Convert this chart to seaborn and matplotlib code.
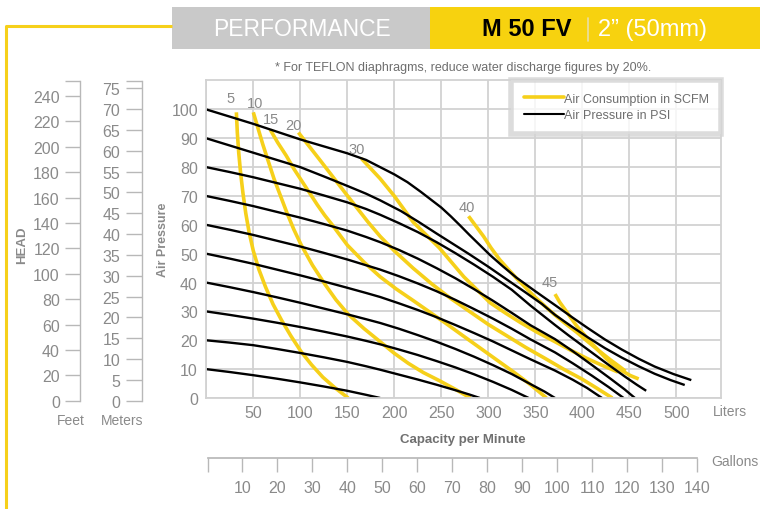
import numpy as np
import pandas as pd
import matplotlib
matplotlib.use("Agg")
import matplotlib.pyplot as plt
from matplotlib.lines import Line2D
from matplotlib.patches import Rectangle
import seaborn as sns

# ---- air pressure curves (PSI): capacity in liters/min -> pressure
p10_lpm = [0, 25, 50, 75, 100, 125, 150, 170, 185]
p10_val = [10, 9, 7.9, 6.7, 5.4, 4, 2.5, 1.1, 0]
p20_lpm = [0, 25, 50, 75, 100, 125, 150, 170, 185, 205, 225, 245, 265, 280, 291]
p20_val = [20, 19.2, 18.3, 17, 15.6, 14.1, 12.5, 11, 9.8, 8.1, 6.4, 4.6, 2.7, 1.2, 0]
p30_lpm = [0, 25, 50, 75, 100, 125, 150, 170, 185, 205, 225, 245, 265, 285, 305, 325, 343]
p30_val = [30, 28.8, 27.5, 26.1, 24.6, 23, 21.3, 19.8, 18.6, 16.8, 14.9, 12.8, 10.6, 8.2, 5.6, 2.8, 0]
p40_lpm = [0, 25, 50, 75, 100, 125, 150, 170, 185, 205, 225, 245, 265, 285, 305, 325, 345, 360, 371]
p40_val = [40, 38.4, 36.7, 34.9, 33, 31, 29, 27.3, 26, 24, 21.8, 19.5, 17, 14.3, 11.4, 8.3, 4.8, 2.2, 0]
p50_lpm = [0, 25, 50, 75, 100, 125, 150, 170, 185, 205, 225, 245, 265, 285, 305, 325, 345, 371, 390, 405, 421]
p50_val = [50, 48.3, 46.5, 44.5, 42.5, 40.4, 38.2, 36.4, 35, 32.8, 30.5, 28, 25.3, 22.5, 19.6, 16.5, 13.4, 9.5, 6.3, 3.5, 0]
p60_lpm = [0, 25, 50, 75, 100, 125, 150, 170, 185, 205, 225, 245, 265, 285, 305, 325, 345, 371, 390, 410, 428, 444]
p60_val = [60, 58.3, 56.5, 54.5, 52.5, 50.3, 48, 46, 44.5, 42.2, 39.7, 37, 34, 30.8, 27.5, 24, 20.3, 15.8, 12, 7.8, 3.8, 0]
p70_lpm = [0, 25, 50, 75, 100, 125, 150, 170, 185, 205, 225, 245, 265, 285, 305, 325, 345, 371, 390, 410, 430, 445, 456]
p70_val = [70, 68.3, 66.5, 64.5, 62.5, 60.3, 58, 55.8, 54, 51.3, 48.3, 45, 41.5, 37.7, 33.7, 29.5, 25.2, 20.4, 16.2, 11.5, 6.7, 3, 0]
p80_lpm = [0, 25, 50, 75, 100, 125, 150, 170, 185, 205, 225, 245, 265, 285, 305, 325, 345, 371, 385, 405, 425, 445, 458, 468]
p80_val = [80, 78.3, 76.5, 74.5, 72.5, 70.2, 67.8, 65.5, 63.5, 60.6, 57.5, 54, 50.2, 46.2, 42, 37.5, 32, 25.3, 21.8, 17, 12.2, 7.5, 4.6, 2.5]
p90_lpm = [0, 25, 50, 75, 100, 125, 150, 170, 185, 207, 226, 245, 262, 279, 300, 320, 340, 357, 371, 389, 406, 424, 442, 460, 477, 494, 509]
p90_val = [90, 87.5, 85, 82.5, 80, 76.8, 73.5, 70.8, 68.5, 64.8, 61, 57, 53.5, 50, 45.5, 41, 36.5, 32.6, 28.8, 24.7, 21, 17.3, 14, 11, 8.4, 6.2, 4.5]
p100_lpm = [0, 25, 50, 75, 100, 125, 150, 170, 185, 200, 214, 228, 240, 250, 260, 270, 280, 291, 302, 316, 330, 350, 371, 390, 406, 424, 442, 460, 477, 497, 516]
p100_val = [100, 97.5, 95, 92.3, 89.6, 87.2, 84.8, 82.5, 80, 77.5, 74.8, 71.5, 68.5, 66, 63, 59.8, 56.5, 53, 49.5, 45.5, 41.7, 37, 32.2, 27.8, 24.2, 20.3, 16.8, 13.6, 10.9, 8.3, 6.2]

# ---- air consumption curves (SCFM)
s5_lpm = [32, 33, 34.5, 36.5, 39, 42, 45.5, 50, 56, 63, 71, 80, 90, 101, 112, 124, 137, 151]
s5_val = [99, 92, 85, 78, 71, 64, 57.5, 51, 44.5, 38.5, 32.5, 27, 21.5, 16, 11.5, 7.2, 3.5, 0]
s10_lpm = [50, 55, 60, 66, 72, 79, 86, 93, 101, 113, 126, 138, 151, 168, 185, 200, 215, 231, 248, 265, 281]
s10_val = [99, 93.5, 88, 82, 76, 70, 64, 58.5, 53, 46, 39.5, 34, 29, 24, 19.5, 15.5, 12, 8.8, 6, 3, 0]
s15_lpm = [68, 76, 85, 93, 102, 110, 118, 126, 134, 142, 150, 159, 168, 185, 202, 220, 238, 256, 273, 291, 309, 327, 345, 362]
s15_val = [93, 88.5, 84, 79.5, 75, 71, 67, 63.3, 60, 56.5, 53, 50, 47, 42, 37.8, 33.8, 29.7, 25.6, 21.6, 17.4, 13.2, 9, 4.6, 0]
s20_lpm = [98, 110, 122, 135, 148, 160, 172, 185, 200, 220, 240, 260, 280, 300, 320, 340, 360, 380, 400, 415, 432]
s20_val = [92, 87, 82, 76.5, 71, 66, 61, 56, 51, 45, 39.5, 34.5, 30, 25.5, 21.5, 17.5, 13.8, 10, 6.5, 3.5, 0]
s30_lpm = [165, 175, 185, 200, 210, 220, 234, 248, 261, 274, 288, 302, 318, 334, 352, 371, 388, 405, 422, 438]
s30_val = [83, 79.5, 76, 70, 65.5, 61, 56.5, 52, 47, 42, 37.5, 33, 29.5, 26.2, 22.8, 19.5, 16.5, 13.7, 11.2, 9]
s40_lpm = [279, 287, 295, 303, 312, 321, 330, 339, 348, 359, 370, 382, 394, 406, 418, 430, 440, 446]
s40_val = [63, 59.5, 56, 52, 48, 44.7, 41.5, 38.5, 35.5, 32.2, 29, 25.8, 22.8, 19.5, 16.3, 13.2, 10.8, 9.3]
s45_lpm = [371, 376, 382, 388, 394, 402, 410, 418, 426, 434, 443, 451, 460]
s45_val = [36, 33.2, 30.5, 27.7, 25, 22, 19, 16.2, 13.5, 11.3, 9.3, 7.8, 6.6]

head_feet = list(range(0, 241, 20))
head_meters = list(range(0, 76, 5))
liters_ticks = list(range(50, 501, 50))
psi_ticks = list(range(0, 101, 10))
gallon_ticks = list(range(0, 141, 10))

psi_curves = {10: (p10_lpm, p10_val), 20: (p20_lpm, p20_val), 30: (p30_lpm, p30_val),
              40: (p40_lpm, p40_val), 50: (p50_lpm, p50_val), 60: (p60_lpm, p60_val),
              70: (p70_lpm, p70_val), 80: (p80_lpm, p80_val), 90: (p90_lpm, p90_val),
              100: (p100_lpm, p100_val)}
scfm_curves = {5: (s5_lpm, s5_val), 10: (s10_lpm, s10_val), 15: (s15_lpm, s15_val),
               20: (s20_lpm, s20_val), 30: (s30_lpm, s30_val), 40: (s40_lpm, s40_val),
               45: (s45_lpm, s45_val)}


def to_long(curves):
    rows = []
    for k, (xs, ys) in curves.items():
        for i, (x, y) in enumerate(zip(xs, ys)):
            rows.append({"curve": k, "order": i, "lpm": x, "val": y})
    return pd.DataFrame(rows)


df_psi = to_long(psi_curves)
df_scfm = to_long(scfm_curves)

sns.set_theme(style="white")
plt.rcParams["font.family"] = ["Liberation Sans Narrow", "Liberation Sans", "DejaVu Sans"]

YEL = "#f6d01a"
GRAY_TXT = "#8a8a8a"
GRID = "#d2d2d2"

W, H = 760, 510
fig = plt.figure(figsize=(7.6, 5.1), dpi=100)


def frac(x0, y0, x1, y1):
    # pixel box (top-left origin) -> figure fraction rect
    return [x0 / W, 1 - y1 / H, (x1 - x0) / W, (y1 - y0) / H]


# ---- header / frame decoration (pixel coordinates)
deco = fig.add_axes([0, 0, 1, 1])
deco.set_xlim(0, W)
deco.set_ylim(H, 0)
deco.axis("off")
deco.add_patch(Rectangle((172, 8), 258, 42, color="#c9c9c9", lw=0))
deco.add_patch(Rectangle((430, 8), 330, 42, color="#f7d20f", lw=0))
deco.plot([6, 6, 172], [510, 27, 27], color=YEL, lw=2.2, solid_capstyle="butt")
deco.text(302, 30, "PERFORMANCE", color="white", fontsize=16.5, ha="center", va="center")
deco.text(482, 30, "M 50 FV", color="black", fontsize=17, fontweight="bold", ha="left", va="center")
deco.plot([588, 588], [19, 42], color="#e9dfa6", lw=1.2)
deco.text(598, 30, "2\u201d (50mm)", color="white", fontsize=17, ha="left", va="center")
deco.text(463, 68, "* For TEFLON diaphragms, reduce water discharge figures by 20%.",
          color="#6e6e6e", fontsize=9, ha="center", va="center")
deco.text(22, 245, "HEAD", color=GRAY_TXT, fontsize=9.5, fontweight="bold", rotation=90,
          ha="center", va="center")
deco.text(163, 240, "Air Pressure", color=GRAY_TXT, fontsize=9, fontweight="bold", rotation=90,
          ha="center", va="center")
deco.text(71, 421, "Feet", color=GRAY_TXT, fontsize=10, ha="center", va="center")
deco.text(122, 421, "Meters", color=GRAY_TXT, fontsize=10, ha="center", va="center")
deco.text(713, 412, "Liters", color=GRAY_TXT, fontsize=10, ha="left", va="center")
deco.text(463, 440, "Capacity per Minute", color="#707070", fontsize=9.5, fontweight="bold",
          ha="center", va="center")
deco.text(711, 462, "Gallons", color=GRAY_TXT, fontsize=10, ha="left", va="center")

# ---- main chart
ax = fig.add_axes(frac(206.3, 81, 721, 399))
ax.set_xlim(0, 547.6)
ax.set_ylim(0, 110.2)
ax.set_xticks(list(range(0, 548, 50)))
ax.set_xticklabels([""] + [str(v) for v in liters_ticks])
ax.set_yticks(psi_ticks)
ax.grid(True, color=GRID, lw=1.3)
ax.set_axisbelow(True)
for s in ax.spines.values():
    s.set_color(GRID)
    s.set_linewidth(1.3)
ax.tick_params(length=0, labelcolor=GRAY_TXT, labelsize=11.5)
ax.tick_params(axis="x", pad=5)
ax.tick_params(axis="y", pad=6)

sns.lineplot(data=df_scfm, x="lpm", y="val", units="curve", estimator=None, sort=False,
             color=YEL, lw=2.6, ax=ax, legend=False)
sns.lineplot(data=df_psi, x="lpm", y="val", units="curve", estimator=None, sort=False,
             color="black", lw=1.7, ax=ax, legend=False)
for ln in ax.lines:
    ln.set_solid_joinstyle("round")
    ln.set_solid_capstyle("butt")
ax.set_xlabel("")
ax.set_ylabel("")

label_off = {5: (-6, 14), 10: (2, 9), 15: (1, 11), 20: (-5, 8), 30: (-5, 9), 40: (-2, 9), 45: (-5, 12)}
for k, (xs, ys) in scfm_curves.items():
    ax.annotate(str(k), (xs[0], ys[0]), xytext=label_off[k], textcoords="offset pixels",
                color=GRAY_TXT, fontsize=10.5, ha="center", va="center")

handles = [Line2D([], [], color=YEL, lw=2.6), Line2D([], [], color="black", lw=1.5)]
leg = ax.legend(handles, ["Air Consumption in SCFM", "Air Pressure in PSI"], loc="upper right",
                bbox_to_anchor=(1.0, 1.0), borderaxespad=0.0, frameon=True, fancybox=False,
                handlelength=3.2, handletextpad=0.0, labelspacing=0.38, borderpad=1.0,
                fontsize=9, labelcolor="#6e6e6e")
leg.get_frame().set_edgecolor("#d4d4d4")
leg.get_frame().set_linewidth(4)
leg.get_frame().set_facecolor("white")


# ---- head scales
def head_axis(x_px, top_val, ticks, tick_len):
    hx = fig.add_axes(frac(x_px, 81.7, x_px + 1, 401.7))
    hx.set_ylim(0, top_val)
    hx.set_xticks([])
    for side in ["right", "top", "bottom"]:
        hx.spines[side].set_visible(False)
    hx.spines["left"].set_color("#b8b8b8")
    hx.spines["left"].set_linewidth(1.0)
    hx.set_yticks(ticks + [top_val])
    hx.set_yticklabels([str(t) for t in ticks] + [""])
    hx.tick_params(axis="y", direction="out", length=tick_len, width=1.0, color="#b8b8b8",
                   labelcolor=GRAY_TXT, labelsize=11.5, pad=4, left=True)
    hx.patch.set_alpha(0)
    return hx


head_axis(80, 252.0, head_feet, 10.5)
head_axis(141.7, 76.8, head_meters, 11.5)

# ---- gallons scale
gx = fig.add_axes(frac(207.5, 457.5, 721, 458.5))
gx.set_xlim(0, 146.8)
gx.set_yticks([])
for side in ["left", "right", "top"]:
    gx.spines[side].set_visible(False)
gx.spines["bottom"].set_color("#b8b8b8")
gx.spines["bottom"].set_bounds(0, 140)
gx.set_xticks(gallon_ticks)
gx.set_xticklabels([""] + [str(t) for t in gallon_ticks[1:]])
gx.tick_params(axis="x", direction="out", length=10, width=1.0, color="#b8b8b8",
               labelcolor=GRAY_TXT, labelsize=11.5, pad=6, bottom=True)
gx.patch.set_alpha(0)

fig.savefig("out.png", dpi=100)
